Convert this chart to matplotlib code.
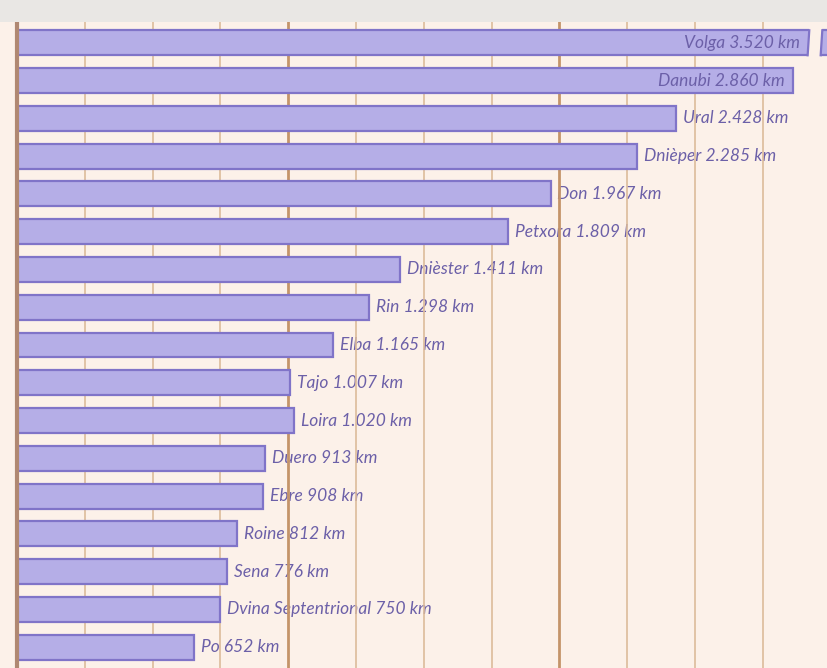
import matplotlib
matplotlib.use("Agg")
import matplotlib.pyplot as plt
from matplotlib.patches import Polygon, Rectangle

rivers = ["Volga", "Danubi", "Ural", "Dnièper", "Don", "Petxora", "Dnièster", "Rin",
          "Elba", "Tajo", "Loira", "Duero", "Ebre", "Roine", "Sena",
          "Dvina Septentrional", "Po"]
lengths_km = [3520, 2860, 2428, 2285, 1967, 1809, 1411, 1298,
              1165, 1007, 1020, 913, 908, 812, 776, 750, 652]

BG = "#fcf1e9"
BAR = "#b5aee7"
EDGE = "#8074c8"
TXT = "#6c60a8"
GRID = "#dcbb9a"
GRID_MAJ = "#c4946a"

W, H = 828, 668
fig = plt.figure(figsize=(W / 100, H / 100), dpi=100, facecolor=BG)
fig.patches.append(Rectangle((0, 1 - 22 / H), 1, 22 / H, transform=fig.transFigure,
                             facecolor="#e9e7e4", edgecolor="none", zorder=0))
ax = fig.add_axes([17 / W, 0, (W - 17) / W, (H - 22) / H])
ax.set_facecolor(BG)

xmax = 2990
ax.set_xlim(0, xmax)
n = len(rivers)
ax.set_ylim(n - 0.45, -0.55)

for x in range(250, xmax, 250):
    major = x % 1000 == 0
    ax.axvline(x, color=GRID_MAJ if major else GRID, lw=2.0 if major else 1.2, zorder=2)

y = list(range(n))
bh = 0.66
ax.barh(y, lengths_km, height=bh, color=BAR, edgecolor=EDGE, linewidth=1.6, zorder=3)

# break in the clipped Volga bar
x0, x1 = 2918, 2966
sl = 3
gap = Polygon([(x0 - sl, bh / 2 + 0.1), (x1 - sl, bh / 2 + 0.1),
               (x1 + sl, -bh / 2 - 0.1), (x0 + sl, -bh / 2 - 0.1)],
              closed=True, facecolor=BG, edgecolor="none", zorder=3.5)
ax.add_patch(gap)
ax.plot([x0 - sl, x0 + sl], [bh / 2, -bh / 2], color=EDGE, lw=1.6, zorder=3.6)
ax.plot([x1 - sl, x1 + sl], [bh / 2, -bh / 2], color=EDGE, lw=1.6, zorder=3.6)


def fmt(v):
    return f"{v:,}".replace(",", ".")


font = dict(family=["Lato", "DejaVu Sans"], style="italic", size=12.5, color=TXT)
for i, (r, v) in enumerate(zip(rivers, lengths_km)):
    label = f"{r} {fmt(v)} km"
    if v > 2600:
        end = min(v, x0)
        ax.annotate(label, (end, i), xytext=(-6, 0), textcoords="offset points",
                    ha="right", va="center", zorder=4, **font)
    else:
        ax.annotate(label, (v, i), xytext=(5, 0), textcoords="offset points",
                    ha="left", va="center", zorder=1, **font)

for s in ["top", "right", "bottom"]:
    ax.spines[s].set_visible(False)
ax.spines["left"].set_color("#b08872")
ax.spines["left"].set_linewidth(3)
ax.spines["left"].set_zorder(5)
ax.set_xticks([])
ax.set_yticks([])

fig.savefig("out.png", dpi=100, facecolor=BG)
